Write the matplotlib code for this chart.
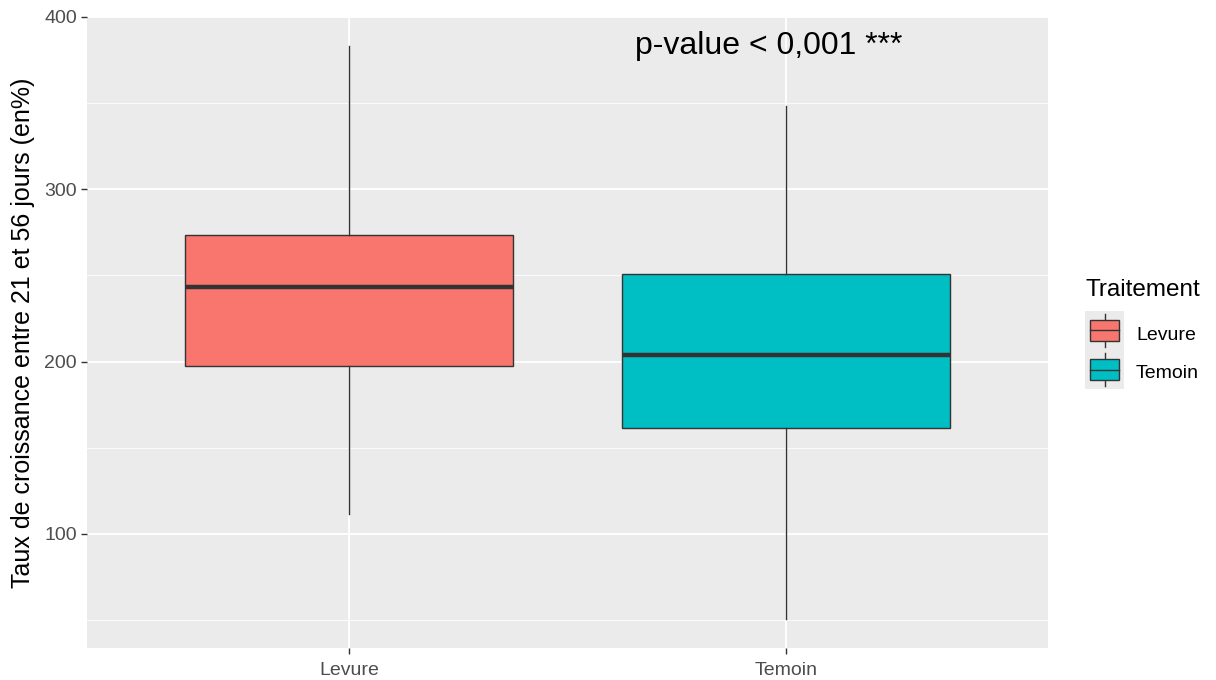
import matplotlib
matplotlib.use("Agg")
import matplotlib.pyplot as plt
from matplotlib.patches import Rectangle
from matplotlib.ticker import MultipleLocator

plt.rcParams['font.family'] = ['Liberation Sans', 'DejaVu Sans']

categories = ["Levure", "Temoin"]
whislo = [111.2, 50.5]
q1 = [197.5, 161.6]
med = [243.2, 203.8]
q3 = [273.3, 250.7]
whishi = [383.2, 348.5]
colors = ["#F8766D", "#00BFC4"]
yticks = [100, 200, 300, 400]
annotation = "p-value < 0,001 ***"
legend_title = "Traitement"

W, H = 1216, 680
fig = plt.figure(figsize=(W / 100, H / 100), dpi=100)
left, right, top, bottom = 86.7, 1048, 17, 647.7
ax = fig.add_axes([left / W, (H - bottom) / H, (right - left) / W, (bottom - top) / H])
ax.set_facecolor("#EBEBEB")

stats = []
for i, c in enumerate(categories):
    stats.append(dict(label=c, whislo=whislo[i], q1=q1[i], med=med[i], q3=q3[i], whishi=whishi[i], fliers=[]))

positions = list(range(1, len(categories) + 1))
bp = ax.bxp(stats, positions=positions, widths=0.75, patch_artist=True, showcaps=False,
            showfliers=False,
            boxprops=dict(edgecolor="#333333", linewidth=1.0),
            medianprops=dict(color="#333333", linewidth=3.2, solid_capstyle="butt"),
            whiskerprops=dict(color="#333333", linewidth=1.0), zorder=3)
for patch, col in zip(bp['boxes'], colors):
    patch.set_facecolor(col)

lo = min(whislo)
hi = max(whishi)
rng = hi - lo
ax.set_ylim(lo - 0.05 * rng, hi + 0.05 * rng)
ax.set_xlim(0.4, len(categories) + 0.6)

ax.set_yticks(yticks)
ax.yaxis.set_minor_locator(MultipleLocator(50))
ax.set_xticks(positions)
ax.set_xticklabels(categories)
ax.grid(which="major", color="white", linewidth=1.3, zorder=0)
ax.grid(which="minor", axis="y", color="white", linewidth=0.6, zorder=0)
ax.set_axisbelow(True)
ax.tick_params(which="major", length=4, width=1, color="#333333", labelcolor="#4D4D4D", labelsize=14, pad=3)
ax.tick_params(axis="x", which="major", pad=6)
ax.tick_params(which="minor", length=0)
for s in ax.spines.values():
    s.set_visible(False)

ax.set_ylabel("Taux de croissance entre 21 et 56 jours (en%)", fontsize=18, color="black", labelpad=7)

ax.text(1.96, 383, annotation, ha="center", va="center", fontsize=23, color="black")

# Legend (manual, ggplot-like)
fig.text(1086 / W, 1 - 290 / H, legend_title, fontsize=17.5, ha="left", va="center", color="black")
lax = fig.add_axes([1085 / W, 1 - 389.3 / H, 39 / W, 78.6 / H])
lax.set_xlim(0, 1)
lax.set_ylim(0, 2)
lax.axis("off")
lax.add_patch(Rectangle((0, 0), 1, 2, facecolor="#EBEBEB", edgecolor="none"))
for k, col in enumerate(colors):
    yc = 2 - k - 0.5
    lax.plot([0.5, 0.5], [yc - 0.42, yc + 0.42], color="#333333", lw=1.0)
    lax.add_patch(Rectangle((0.13, yc - 0.27), 0.74, 0.54, facecolor=col, edgecolor="#333333", lw=1.0, zorder=3))
    lax.plot([0.13, 0.87], [yc, yc], color="#333333", lw=1.0, zorder=4)
    fig.text(1136 / W, 1 - (335 + 38.5 * k) / H, categories[k], fontsize=14, ha="left", va="center", color="black")

fig.savefig("out.png", dpi=100)
